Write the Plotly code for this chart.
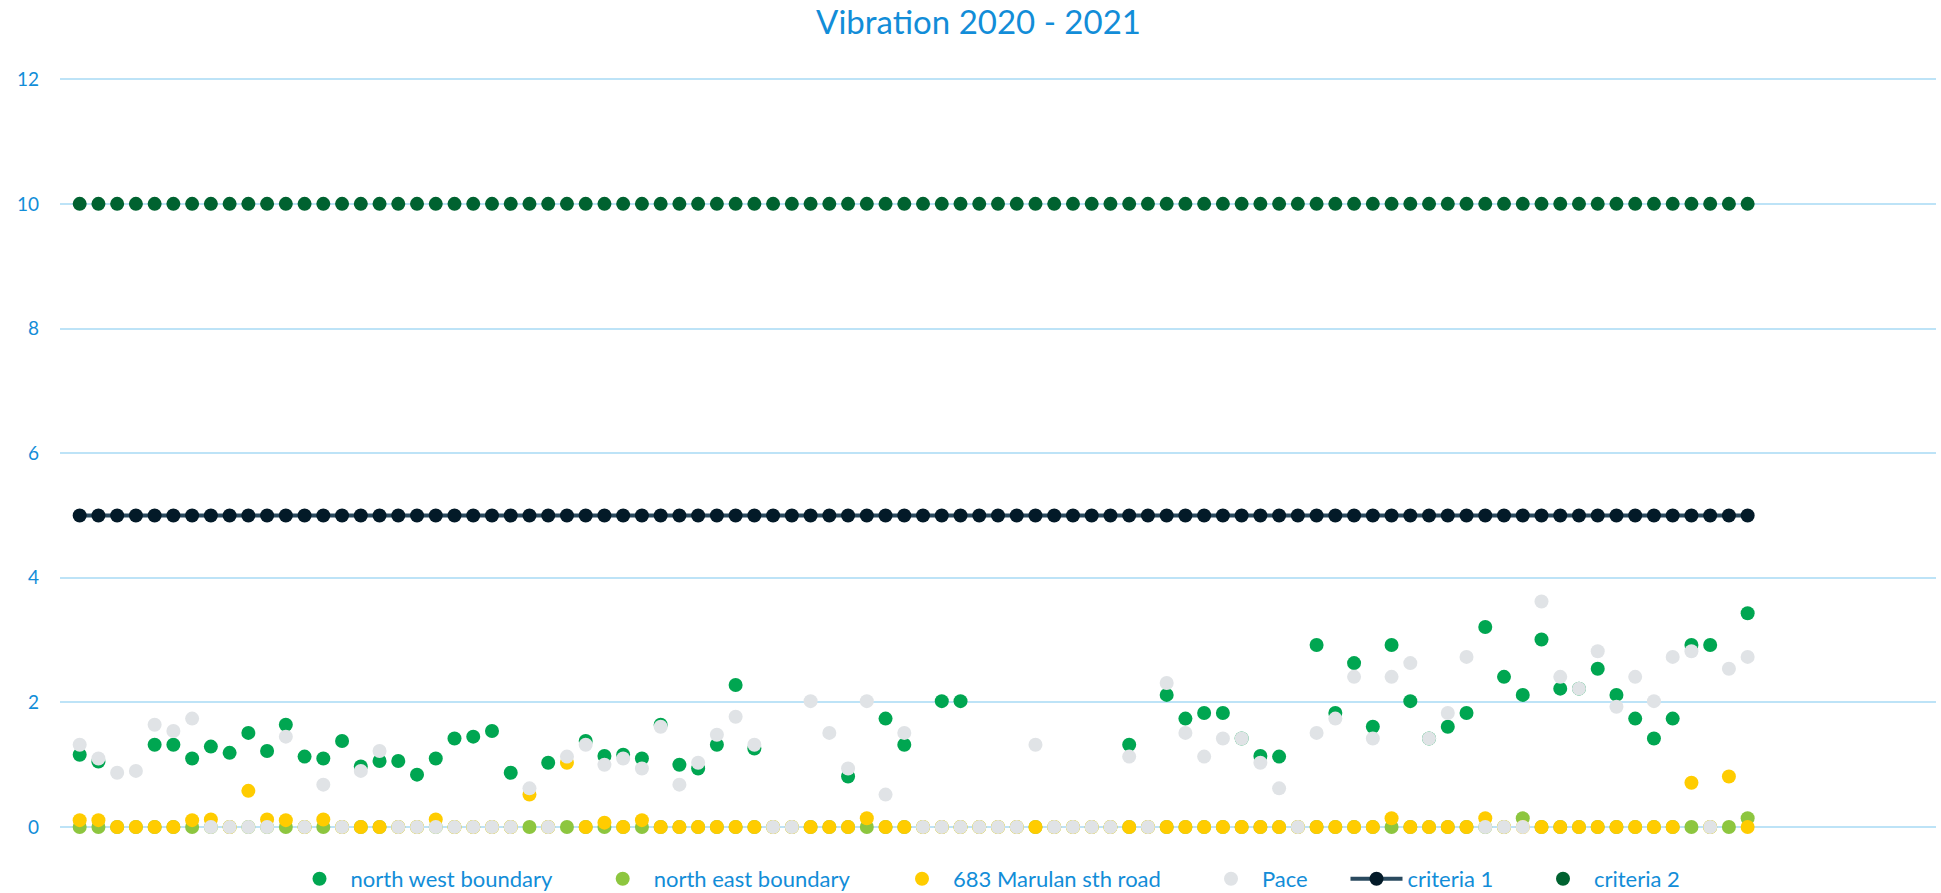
import plotly.graph_objects as go

# ---------------- data ----------------
samples = list(range(1, 91))

north_west = [1.16, 1.05, None, None, 1.32, 1.32, 1.10, 1.29, 1.19, 1.51,
              1.22, 1.64, 1.13, 1.10, 1.38, 0.97, 1.06, 1.06, 0.84, 1.10,
              1.42, 1.45, 1.54, 0.87, None, 1.03, None, 1.38, 1.14, 1.16,
              1.10, 1.64, 1.00, 0.94, 1.32, 2.28, 1.26, None, None, None,
              None, 0.81, None, 1.74, 1.32, None, 2.02, 2.02, None, None,
              None, None, None, None, None, None, 1.32, None, 2.12, 1.74,
              1.83, 1.83, 1.42, 1.14, 1.13, None, 2.92, 1.83, 2.63, 1.61,
              2.92, 2.02, 1.42, 1.61, 1.83, 3.21, 2.41, 2.12, 3.01, 2.22,
              2.22, 2.54, 2.12, 1.74, 1.42, 1.74, 2.92, 2.92, None, 3.43]

north_east = [0] * 77 + [0.14] + [0] * 11 + [0.14]

marulan = [0.11, 0.11, 0, 0, 0, 0, 0.11, 0.12, 0, 0.58,
           0.12, 0.11, 0, 0.12, 0, 0, 0, 0, 0, 0.12,
           0, 0, 0, 0, 0.52, 0, 1.03, 0, 0.07, 0,
           0.11, 0, 0, 0, 0, 0, 0, 0, 0, 0,
           0, 0, 0.14, 0, 0, 0, 0, 0, 0, 0,
           0, 0, 0, 0, 0, 0, 0, 0, 0, 0,
           0, 0, 0, 0, 0, 0, 0, 0, 0, 0,
           0.14, 0, 0, 0, 0, 0.14, 0, 0, 0, 0,
           0, 0, 0, 0, 0, 0, 0.71, 0, 0.81, 0]

pace = [1.32, 1.10, 0.87, 0.90, 1.64, 1.54, 1.74, 0, 0, 0,
        0, 1.45, 0, 0.68, 0, 0.90, 1.22, 0, 0, 0,
        0, 0, 0, 0, 0.62, 0, 1.13, 1.32, 1.00, 1.10,
        0.94, 1.61, 0.68, 1.03, 1.48, 1.77, 1.32, 0, 0, 2.02,
        1.51, 0.94, 2.02, 0.52, 1.51, 0, 0, 0, 0, 0,
        0, 1.32, 0, 0, 0, 0, 1.13, 0, 2.31, 1.51,
        1.13, 1.42, 1.42, 1.03, 0.62, 0, 1.51, 1.74, 2.41, 1.42,
        2.41, 2.63, 1.42, 1.83, 2.73, 0, 0, 0, 3.62, 2.41,
        2.22, 2.82, 1.93, 2.41, 2.02, 2.73, 2.82, 0, 2.54, 2.73]

criteria_1 = [5] * 90
criteria_2 = [10] * 90

y_ticks = [0, 2, 4, 6, 8, 10, 12]

# ---------------- styling ----------------
BLUE = "#128DD8"
FONT = "Lato"
MS = 14
W, H = 1941, 893
ITEMW = 52

fig = go.Figure()

# legend text start positions (pixels) for each entry
legend_text_x = [350.5, 653.7, 953, 1262, 1407.5, 1594]
legend_names = ["legend", "legend2", "legend3", "legend4", "legend5", "legend6"]


def pts(name, y, color, idx, line=None):
    fig.add_trace(go.Scatter(
        x=samples, y=y, name=name,
        mode="lines+markers" if line else "markers",
        marker=dict(size=MS, color=color, line=dict(width=0)),
        line=dict(color=line, width=4) if line else None,
        cliponaxis=False,
        legend=legend_names[idx],
    ))


pts("north west boundary", north_west, "#00A651", 0)
pts("north east boundary", north_east, "#8DC63F", 1)
pts("683 Marulan sth road", marulan, "#FFCC00", 2)
pts("Pace", pace, "#E0E3E6", 3)
pts("criteria 1", criteria_1, "#031A28", 4, line="#2A4A5F")
pts("criteria 2", criteria_2, "#006230", 5)

legend_layout = {}
for i, ln in enumerate(legend_names):
    legend_layout[ln] = dict(
        xref="container", yref="container",
        x=(legend_text_x[i] - ITEMW - 10) / W, xanchor="left",
        y=1 - 879 / H, yanchor="middle",
        itemwidth=ITEMW,
        font=dict(size=22, color=BLUE, family=FONT),
        bgcolor="rgba(0,0,0,0)", borderwidth=0,
    )

fig.update_layout(
    width=W, height=H,
    margin=dict(l=60, r=5, t=77.5, b=65.5, autoexpand=False),
    paper_bgcolor="white", plot_bgcolor="white",
    font=dict(family=FONT, color=BLUE, size=19),
    title=dict(text="Vibration 2020 - 2021", x=978.5 / W, xref="container",
               xanchor="center", y=1 - 22 / H, yanchor="middle",
               font=dict(size=33, color=BLUE, family=FONT)),
    showlegend=True,
    **legend_layout,
)

fig.update_xaxes(range=[-0.05, 100.05], showgrid=False,
                 showticklabels=False, zeroline=False, showline=False,
                 ticks="", automargin=False)
fig.update_yaxes(range=[0, 12.02], tickvals=y_ticks, showgrid=True,
                 gridcolor="#BDE3F7", gridwidth=1.5, zeroline=True,
                 zerolinecolor="#BDE3F7", zerolinewidth=1.5,
                 showline=False, ticks="", ticklabelstandoff=20,
                 automargin=False,
                 tickfont=dict(size=19, color=BLUE, family=FONT))

fig.write_html("out.html", config={"displayModeBar": False},
               post_script="document.body.style.margin='0px';")
